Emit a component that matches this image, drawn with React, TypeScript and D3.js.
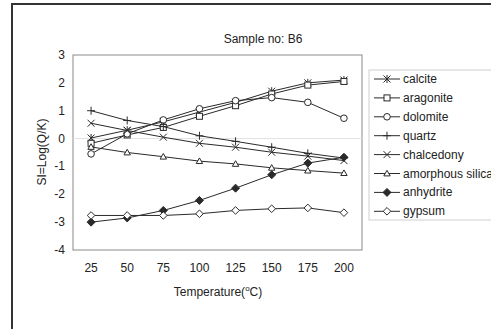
import React from "react";
import * as d3 from "d3";

const temperatures = [25, 50, 75, 100, 125, 150, 175, 200];
const seriesNames = ["calcite", "aragonite", "dolomite", "quartz", "chalcedony", "amorphous silica", "anhydrite", "gypsum"];
const calcite = [0.02, 0.3, 0.6, 0.95, 1.3, 1.7, 2.0, 2.1];
const aragonite = [-0.17, 0.13, 0.4, 0.8, 1.18, 1.6, 1.92, 2.05];
const dolomite = [-0.55, 0.17, 0.67, 1.07, 1.36, 1.47, 1.3, 0.73];
const quartz = [1.0, 0.65, 0.43, 0.1, -0.1, -0.31, -0.53, -0.7];
const chalcedony = [0.55, 0.29, 0.05, -0.17, -0.31, -0.49, -0.63, -0.79];
const amorphousSilica = [-0.3, -0.5, -0.65, -0.81, -0.91, -1.05, -1.15, -1.24];
const anhydrite = [-3.0, -2.85, -2.58, -2.22, -1.78, -1.3, -0.88, -0.67];
const gypsum = [-2.76, -2.76, -2.76, -2.7, -2.58, -2.52, -2.49, -2.66];
const yTicks = [3, 2, 1, 0, -1, -2, -3, -4];

const allSeries = [calcite, aragonite, dolomite, quartz, chalcedony, amorphousSilica, anhydrite, gypsum];
const markerTypes = ["asterisk", "square", "circle", "plus", "cross", "triangle", "diamondFilled", "diamond"];

const LINE = "#2a2a2a";

function Marker({ type, x, y }: { type: string; x: number; y: number }) {
  const s = 3.5;
  const common = { stroke: LINE, strokeWidth: 1 };
  switch (type) {
    case "asterisk":
      return (
        <g {...common}>
          <line x1={x - s} y1={y - s} x2={x + s} y2={y + s} />
          <line x1={x - s} y1={y + s} x2={x + s} y2={y - s} />
          <line x1={x} y1={y - s - 0.5} x2={x} y2={y + s + 0.5} />
        </g>
      );
    case "square":
      return <rect x={x - 3} y={y - 3} width={6} height={6} fill="white" {...common} />;
    case "circle":
      return <circle cx={x} cy={y} r={3.3} fill="white" {...common} />;
    case "plus":
      return (
        <g {...common}>
          <line x1={x - 4} y1={y} x2={x + 4} y2={y} />
          <line x1={x} y1={y - 4} x2={x} y2={y + 4} />
        </g>
      );
    case "cross":
      return (
        <g {...common}>
          <line x1={x - s} y1={y - s} x2={x + s} y2={y + s} />
          <line x1={x - s} y1={y + s} x2={x + s} y2={y - s} />
        </g>
      );
    case "triangle":
      return <path d={`M${x},${y - 3.2}L${x + 3.2},${y + 2.4}L${x - 3.2},${y + 2.4}Z`} fill="white" {...common} />;
    case "diamondFilled":
      return <path d={`M${x},${y - 4}L${x + 4},${y}L${x},${y + 4}L${x - 4},${y}Z`} fill={LINE} {...common} />;
    case "diamond":
      return <path d={`M${x},${y - 3.8}L${x + 3.8},${y}L${x},${y + 3.8}L${x - 3.8},${y}Z`} fill="white" {...common} />;
  }
  return null;
}

export default function App() {
  const W = 491, H = 329;
  const plot = { left: 73, right: 362, top: 55, bottom: 250 };
  const x = d3.scaleBand<number>().domain(temperatures).range([plot.left, plot.right]);
  const cx = (t: number) => (x(t) as number) + x.bandwidth() / 2;
  const y = d3.scaleLinear().domain([-4, 3]).range([plot.bottom, plot.top]);
  const line = d3.line<number>().x((_, i) => cx(temperatures[i])).y((d) => y(d));
  const font = "Arial, 'Liberation Sans', sans-serif";
  const legendX = 369, legendTop = 70, legendStep = 18.9;

  return (
    <svg width={W} height={H} style={{ position: "absolute", left: 0, top: 0 }} fontFamily={font}>
      <rect x={0} y={0} width={W} height={H} fill="white" />
      <rect x={12} y={4} width={700} height={500} fill="none" stroke="#333" strokeWidth={2} />
      <text x={263} y={43} textAnchor="middle" fontSize={12} fill="#222">Sample no: B6</text>
      <rect x={plot.left} y={plot.top} width={plot.right - plot.left} height={plot.bottom - plot.top} fill="white" stroke="#8a8a8a" strokeWidth={1} />
      <line x1={plot.left} x2={plot.right} y1={y(0)} y2={y(0)} stroke="#e2e2e2" strokeWidth={1} />
      {yTicks.map((t) => (
        <text key={t} x={65} y={y(t) + 4} textAnchor="end" fontSize={12} fill="#222">{t}</text>
      ))}
      {temperatures.map((t) => (
        <text key={t} x={cx(t)} y={272} textAnchor="middle" fontSize={12} fill="#222">{t}</text>
      ))}
      <text x={218} y={296} textAnchor="middle" fontSize={12} fill="#222">
        Temperature(<tspan fontSize={8} dy={-5}>o</tspan><tspan dy={5}>C)</tspan>
      </text>
      <text transform={`translate(46,152) rotate(-90)`} textAnchor="middle" fontSize={12} fill="#222">SI=Log(Q/K)</text>
      {allSeries.map((s, i) => (
        <g key={seriesNames[i]}>
          <path d={line(s) || ""} fill="none" stroke={LINE} strokeWidth={1} />
          {s.map((v, j) => (
            <Marker key={j} type={markerTypes[i]} x={cx(temperatures[j])} y={y(v)} />
          ))}
        </g>
      ))}
      <rect x={legendX} y={legendTop} width={200} height={150} fill="white" stroke="#d0d0d0" strokeWidth={1} />
      {seriesNames.map((n, i) => {
        const ly = 79 + i * legendStep;
        return (
          <g key={n}>
            <line x1={374} x2={400} y1={ly} y2={ly} stroke={LINE} strokeWidth={1} />
            <Marker type={markerTypes[i]} x={387} y={ly} />
            <text x={403} y={ly + 4} fontSize={12} fill="#222">{n}</text>
          </g>
        );
      })}
    </svg>
  );
}
